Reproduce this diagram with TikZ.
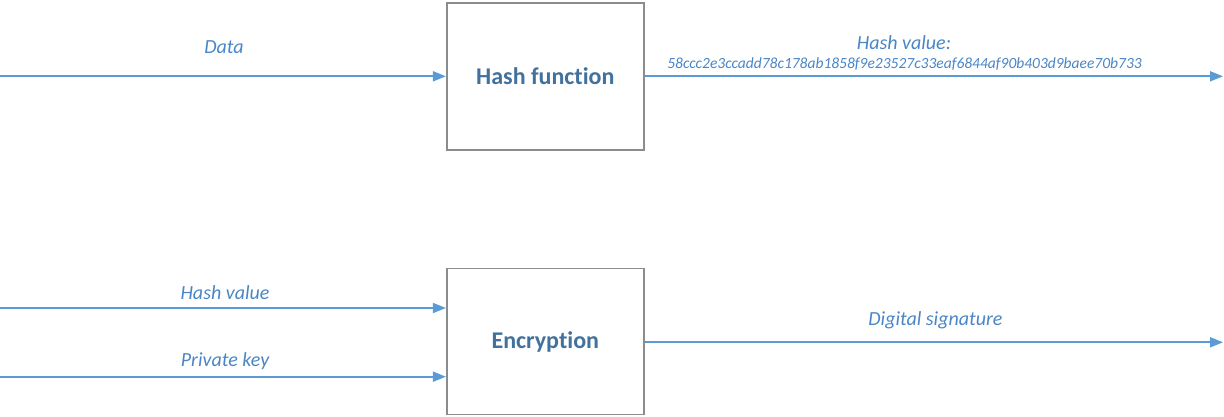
\documentclass[tikz,border=0pt]{standalone}
\usepackage{fontspec}
\setmainfont{Carlito}[Ligatures=NoCommon]
\usetikzlibrary{arrows.meta}
\definecolor{boxtext}{HTML}{41719C}
\definecolor{labeltext}{HTML}{4A86C5}
\definecolor{flow}{HTML}{5B9BD5}
\definecolor{frame}{HTML}{8C8C8C}
\tikzset{
  procbox/.style={draw=frame, line width=1.8pt, fill=white, minimum width=197pt,
    text=boxtext, font=\fontsize{24}{28}\selectfont\bfseries, inner sep=0pt},
  flowline/.style={draw=flow, line width=1.8pt, -{Triangle[length=13pt,width=10pt]}},
  flowlabel/.style={text=labeltext, font=\fontsize{20}{23}\selectfont\itshape, inner sep=0pt},
  hashlabel/.style={text=labeltext, font=\fontsize{15.5}{18}\selectfont\itshape, inner sep=0pt}
}
\begin{document}
\begin{tikzpicture}[x=1pt,y=-1pt]
\useasboundingbox (0,0) rectangle (1224,416);

% processing blocks
\node[procbox, minimum height=147pt] (hash) at (545.3,76.3) {Hash function};
\node[procbox, minimum height=146pt] (enc) at (545.3,341.5) {Encryption};

% free ends of the flows
\coordinate (datain) at (0,76.3);
\coordinate (hashout) at (1223,76.3);
\coordinate (hvin) at (0,308);
\coordinate (pkin) at (0,376.7);
\coordinate (sigout) at (1223,342.3);

% flows
\draw[flowline] (datain) -- (hash.west);
\draw[flowline] (hash.east) -- (hashout);
\draw[flowline] (hvin) -- (enc.west |- hvin);
\draw[flowline] (pkin) -- (enc.west |- pkin);
\draw[flowline] (enc.east |- sigout) -- (sigout);

% flow labels
\node[flowlabel] (ldata) at (224,47) {Data};
\node[flowlabel] (lhash) at (904,43) {Hash value:};
\node[hashlabel] (lhashval) at (904.5,64) {58ccc2e3ccadd78c178ab1858f9e23527c33eaf6844af90b403d9baee70b733};
\node[flowlabel] (lhv) at (225,293) {Hash value};
\node[flowlabel] (lpk) at (225,361) {Private key};
\node[flowlabel] (lsig) at (935.5,320) {Digital signature};
\end{tikzpicture}
\end{document}
